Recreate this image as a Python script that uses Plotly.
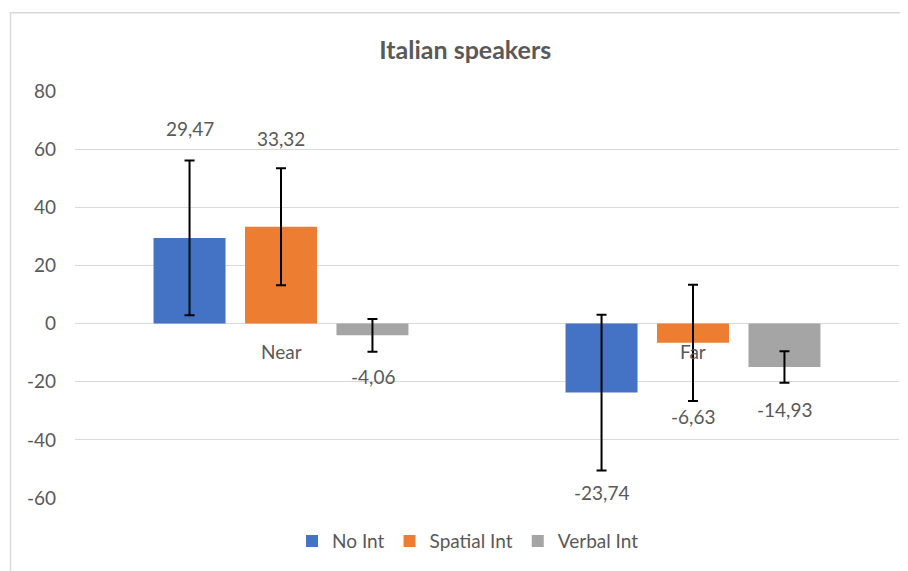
import plotly.graph_objects as go

# Italian speakers - mean scores with error bars
categories = ['Near', 'Far']
series_names = ['No Int', 'Spatial Int', 'Verbal Int']
no_int = [29.47, -23.74]
spatial_int = [33.32, -6.63]
verbal_int = [-4.06, -14.93]
no_int_err = [26.6, 26.8]
spatial_int_err = [20.1, 20.0]
verbal_int_err = [5.6, 5.4]
y_ticks = [-60, -40, -20, 0, 20, 40, 60, 80]

colors = ['#4472C4', '#ED7D31', '#A5A5A5']
values = [no_int, spatial_int, verbal_int]
errors = [no_int_err, spatial_int_err, verbal_int_err]

# pixel nudges of the value labels (moved by hand in the original)
label_shift = [[32, -22], [30, -16], [-25, -27]]

FONT = 'Lato'
GREY = '#595959'

fig = go.Figure()
for name, vals, errs, col in zip(series_names, values, errors, colors):
    fig.add_trace(go.Bar(
        x=categories, y=vals, name=name,
        marker=dict(color=col, line=dict(width=0)),
        error_y=dict(type='data', array=errs, visible=True,
                     color='black', thickness=2, width=5),
    ))

annotations = []
bar_step = 91.5
for i, (vals, errs) in enumerate(zip(values, errors)):
    for j, cat in enumerate(categories):
        v, e = vals[j], errs[j]
        end = v + e if v >= 0 else v - e
        annotations.append(dict(
            x=cat, y=end, xref='x', yref='y', showarrow=False,
            text=f'{v:.2f}'.replace('.', ','),
            xshift=(i - 1) * bar_step, yshift=label_shift[i][j],
            font=dict(family=FONT, size=19, color=GREY),
        ))

# category labels sit under the zero line, like Excel
for cat in categories:
    annotations.append(dict(
        x=cat, y=0, xref='x', yref='y', showarrow=False, text=cat,
        yshift=-28, font=dict(family=FONT, size=19, color=GREY),
    ))

# page body has an 8px margin, so the figure is a bit smaller than the window
fig.update_layout(
    width=900, height=563,
    margin=dict(l=67, r=9, t=83, b=73),
    paper_bgcolor='white', plot_bgcolor='white',
    title=dict(text='<b>Italian speakers</b>', x=0.508, y=0.925,
               xanchor='center', yanchor='middle',
               font=dict(family=FONT, size=25, color=GREY)),
    barmode='group', bargap=0.334, bargroupgap=0.213,
    showlegend=True,
    legend=dict(orientation='h', x=0.477, y=-0.106, xanchor='center', yanchor='middle',
                font=dict(family=FONT, size=19, color=GREY), traceorder='normal'),
    annotations=annotations,
    shapes=[dict(type='rect', xref='paper', yref='paper',
                 x0=-0.0783, x1=1.2, y0=-0.3, y1=1.192,
                 line=dict(color='#D9D9D9', width=1.5), layer='below')],
)

fig.update_xaxes(showticklabels=False, showgrid=False, showline=False, zeroline=False)
fig.update_yaxes(range=[-60, 80], tickvals=y_ticks, ticktext=[str(t) for t in y_ticks],
                 showgrid=True, gridcolor='#D9D9D9',
                 gridwidth=1, zeroline=True, zerolinecolor='#D9D9D9', zerolinewidth=1,
                 showline=False, ticks='', ticklabelstandoff=18,
                 tickfont=dict(family=FONT, size=19, color=GREY))

fig.write_html('out.html')
